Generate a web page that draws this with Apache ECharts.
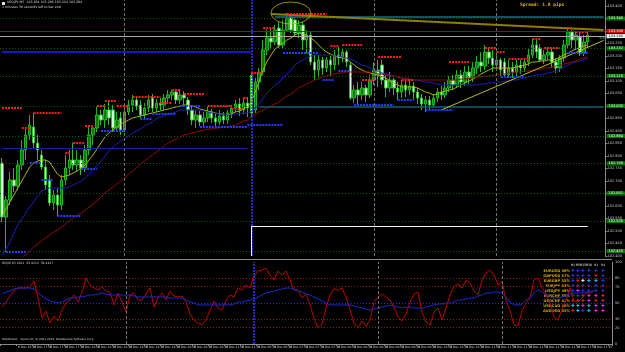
<!DOCTYPE html>
<html>
<head>
<meta charset="utf-8">
<script src="https://cdn.jsdelivr.net/npm/echarts@6/dist/echarts.min.js"></script>
<style>
html, body { margin: 0; padding: 0; background: #000; }
#chart { width: 625px; height: 352px; }
</style>
</head>
<body>
<div id="chart"></div>
<script>
// USDJPY M5, each candle is [open, close, low, high]
const candles = [
  [102.772,102.556,102.536,102.792],[102.556,102.624,102.416,102.640],[102.624,102.704,102.604,102.736],[102.704,102.680,102.656,102.752],[102.680,102.764,102.664,102.784],
  [102.764,102.824,102.744,102.864],[102.824,102.884,102.784,102.912],[102.884,102.924,102.864,102.964],[102.916,102.852,102.832,102.972],[102.852,102.824,102.784,102.884],
  [102.804,102.756,102.744,102.824],[102.756,102.684,102.664,102.784],[102.704,102.612,102.600,102.724],[102.612,102.644,102.584,102.664],[102.644,102.604,102.560,102.672],
  [102.604,102.704,102.584,102.724],[102.704,102.752,102.684,102.804],[102.752,102.784,102.724,102.824],[102.784,102.764,102.744,102.852],[102.764,102.784,102.736,102.824],
  [102.784,102.752,102.724,102.804],[102.752,102.824,102.736,102.844],[102.824,102.884,102.804,102.916],[102.884,102.912,102.844,102.920],[102.912,102.964,102.896,102.996],
  [102.964,102.944,102.924,102.984],[102.944,102.984,102.912,103.008],[102.984,102.952,102.924,103.024],[102.984,102.912,102.896,103.004],[102.912,102.944,102.896,102.976],
  [102.952,102.904,102.884,102.976],[102.904,102.976,102.896,103.004],[102.976,103.004,102.964,103.024],[103.004,103.024,102.976,103.044],[103.024,103.000,102.984,103.036],
  [103.004,102.964,102.952,103.024],[102.964,102.992,102.952,103.012],[102.992,103.024,102.976,103.044],[103.032,102.992,102.976,103.048],[102.992,103.012,102.976,103.028],
  [103.012,103.004,102.984,103.032],[103.004,103.032,102.984,103.048],[103.032,103.044,103.012,103.064],[103.044,103.056,103.024,103.064],[103.056,103.024,103.008,103.064],
  [103.024,103.044,103.008,103.064],[103.044,103.032,103.004,103.060],[103.024,102.984,102.964,103.036],[102.984,102.944,102.924,103.000],[102.944,102.964,102.912,102.984],
  [102.964,102.936,102.920,102.980],[102.936,102.952,102.916,102.976],[102.952,102.976,102.936,102.996],[102.976,102.952,102.932,102.988],[102.952,102.936,102.916,102.968],
  [102.936,102.960,102.924,102.984],[102.960,102.944,102.928,102.976],[102.944,102.972,102.928,102.984],[102.972,102.992,102.952,103.004],[102.992,103.008,102.976,103.024],
  [103.008,102.984,102.960,103.032],[102.984,103.012,102.968,103.032],[103.012,102.992,102.956,103.036],
  [103.124,102.972,102.956,103.136],[102.984,103.096,102.972,103.112],
  [103.096,103.136,103.064,103.152],[103.136,103.224,103.124,103.264],[103.224,103.272,103.204,103.304],[103.272,103.256,103.232,103.312],[103.256,103.304,103.244,103.324],
  [103.312,103.244,103.232,103.336],[103.244,103.304,103.232,103.344],[103.304,103.352,103.296,103.372],[103.356,103.304,103.292,103.368],[103.344,103.292,103.280,103.356],
  [103.292,103.324,103.272,103.344],[103.324,103.264,103.224,103.336],[103.264,103.284,103.212,103.304],[103.284,103.176,103.164,103.296],[103.176,103.144,103.104,103.204],
  [103.144,103.184,103.112,103.204],[103.184,103.152,103.124,103.196],[103.152,103.184,103.136,103.196],[103.184,103.164,103.116,103.200],[103.164,103.204,103.144,103.224],
  [103.204,103.192,103.164,103.236],[103.192,103.216,103.176,103.232],[103.216,103.176,103.156,103.224],[103.164,103.032,103.024,103.176],[103.032,103.064,103.012,103.084],
  [103.064,103.044,103.004,103.096],[103.044,103.072,103.024,103.096],[103.072,103.044,103.016,103.084],[103.044,103.104,103.032,103.124],[103.104,103.144,103.084,103.176],
  [103.144,103.124,103.076,103.184],[103.164,103.104,103.084,103.184],[103.104,103.072,103.036,103.124],[103.072,103.104,103.056,103.136],[103.104,103.072,103.044,103.112],
  [103.072,103.056,103.024,103.096],[103.056,103.084,103.032,103.104],[103.084,103.064,103.036,103.104],[103.064,103.080,103.044,103.104],[103.080,103.056,103.024,103.096],
  [103.056,103.032,103.008,103.072],[103.032,103.008,102.984,103.048],[103.008,103.024,102.976,103.040],[103.024,103.004,102.984,103.040],[103.004,103.032,102.992,103.048],
  [103.032,103.056,103.016,103.072],[103.056,103.044,103.024,103.080],[103.044,103.072,103.032,103.096],[103.072,103.104,103.056,103.120],[103.104,103.084,103.064,103.124],
  [103.084,103.124,103.072,103.144],[103.124,103.096,103.072,103.144],[103.096,103.136,103.080,103.160],[103.136,103.112,103.088,103.160],[103.112,103.152,103.096,103.176],
  [103.152,103.176,103.128,103.200],[103.176,103.160,103.136,103.216],[103.160,103.216,103.144,103.244],[103.216,103.192,103.168,103.236],[103.192,103.164,103.136,103.224],
  [103.164,103.184,103.144,103.216],[103.184,103.144,103.120,103.192],[103.176,103.124,103.112,103.192],[103.124,103.152,103.112,103.184],[103.152,103.136,103.112,103.176],
  [103.136,103.164,103.120,103.184],[103.164,103.152,103.128,103.184],[103.152,103.176,103.136,103.192],[103.176,103.204,103.160,103.232],[103.204,103.244,103.192,103.268],
  [103.244,103.216,103.192,103.264],[103.232,103.184,103.176,103.248],[103.184,103.204,103.168,103.224],[103.204,103.216,103.184,103.232],[103.216,103.176,103.152,103.232],
  [103.176,103.152,103.132,103.192],[103.152,103.192,103.136,103.204],[103.192,103.244,103.176,103.264],[103.244,103.296,103.232,103.312],[103.296,103.264,103.232,103.304],
  [103.264,103.284,103.224,103.296],[103.276,103.212,103.200,103.292],[103.212,103.256,103.200,103.284],[103.256,103.284,103.232,103.296]
]

const maFast = [
  102.560,102.588,102.616,102.644,102.672,102.700,102.728,102.756,102.772,102.780,
  102.784,102.784,102.776,102.752,102.728,102.716,102.720,102.724,102.732,102.740,
  102.752,102.764,102.784,102.804,102.828,102.852,102.876,102.892,102.904,102.916,
  102.928,102.936,102.944,102.952,102.956,102.960,102.964,102.968,102.972,102.976,
  102.980,102.984,102.988,102.992,102.996,103.000,103.004,103.004,103.000,102.996,
  102.988,102.984,102.980,102.976,102.972,102.968,102.968,102.964,102.968,102.976,
  102.980,102.988,102.996,103.016,103.056,103.100,103.144,103.180,103.204,103.228,
  103.240,103.252,103.264,103.272,103.284,103.292,103.288,103.284,103.272,103.260,
  103.244,103.228,103.216,103.208,103.200,103.196,103.192,103.192,103.176,103.164,
  103.152,103.144,103.136,103.132,103.128,103.124,103.116,103.112,103.100,103.092,
  103.084,103.076,103.076,103.076,103.076,103.072,103.064,103.056,103.052,103.044,
  103.048,103.056,103.060,103.064,103.068,103.076,103.084,103.092,103.100,103.108,
  103.116,103.128,103.136,103.144,103.152,103.152,103.152,103.152,103.152,103.152,
  103.156,103.160,103.164,103.168,103.176,103.176,103.180,103.180,103.184,103.184,
  103.188,103.196,103.204,103.212,103.220,103.228,103.232,103.240,103.244
]

const maMid = [
  102.404,102.428,102.456,102.492,102.524,102.548,102.572,102.596,102.616,102.640,
  102.660,102.668,102.672,102.672,102.672,102.672,102.672,102.676,102.684,102.692,
  102.700,102.712,102.728,102.744,102.760,102.780,102.800,102.820,102.836,102.848,
  102.860,102.868,102.880,102.892,102.900,102.908,102.920,102.928,102.936,102.948,
  102.956,102.960,102.968,102.972,102.976,102.984,102.984,102.984,102.984,102.984,
  102.984,102.980,102.976,102.972,102.972,102.968,102.968,102.964,102.964,102.968,
  102.968,102.972,102.972,102.980,102.992,103.008,103.032,103.052,103.068,103.084,
  103.096,103.112,103.128,103.144,103.164,103.176,103.184,103.192,103.200,103.204,
  103.204,103.204,103.204,103.204,103.200,103.200,103.196,103.192,103.188,103.180,
  103.172,103.164,103.160,103.152,103.144,103.140,103.132,103.128,103.124,103.120,
  103.116,103.112,103.108,103.108,103.104,103.104,103.100,103.096,103.096,103.092,
  103.088,103.084,103.084,103.084,103.084,103.084,103.084,103.084,103.084,103.084,
  103.084,103.088,103.088,103.092,103.092,103.096,103.096,103.100,103.100,103.104,
  103.104,103.108,103.112,103.116,103.120,103.124,103.124,103.128,103.132,103.136,
  103.140,103.148,103.156,103.164,103.172,103.176,103.180,103.184,103.192
]

const maSlow = [
  102.336,102.352,102.364,102.376,102.384,102.396,102.404,102.420,102.436,102.448,
  102.460,102.472,102.484,102.496,102.504,102.516,102.528,102.540,102.552,102.564,
  102.572,102.584,102.596,102.608,102.620,102.636,102.652,102.664,102.676,102.688,
  102.700,102.712,102.728,102.740,102.752,102.768,102.780,102.792,102.804,102.816,
  102.828,102.840,102.852,102.860,102.868,102.876,102.884,102.888,102.892,102.896,
  102.900,102.904,102.908,102.908,102.912,102.912,102.916,102.916,102.920,102.924,
  102.932,102.940,102.944,102.956,102.968,102.976,102.984,102.992,103.000,103.008,
  103.016,103.028,103.040,103.048,103.060,103.072,103.080,103.088,103.096,103.104,
  103.108,103.116,103.120,103.124,103.128,103.132,103.132,103.136,103.136,103.136,
  103.136,103.136,103.136,103.136,103.132,103.128,103.128,103.124,103.120,103.120,
  103.116,103.112,103.112,103.108,103.104,103.104,103.104,103.104,103.104,103.104,
  103.104,103.104,103.104,103.104,103.104,103.104,103.108,103.108,103.112,103.112,
  103.116,103.116,103.120,103.120,103.124,103.124,103.128,103.128,103.132,103.132,
  103.136,103.136,103.140,103.140,103.144,103.144,103.148,103.152,103.152,103.156,
  103.160,103.164,103.168,103.172,103.176,103.180,103.188,103.192,103.196
]

const rsi = [
  45.1,51.2,58.5,64.6,68.3,68.3,68.3,69.5,76.8,56.1,
  31.7,40.2,25.6,34.1,28.0,41.5,50.0,53.7,59.8,51.2,
  63.4,80.5,72.0,68.3,65.9,69.5,64.6,63.4,47.6,62.2,
  51.2,39.0,59.8,62.2,53.7,53.7,61.0,68.3,45.1,56.1,
  62.2,53.7,64.6,58.5,57.3,58.5,51.2,36.6,29.3,25.6,
  23.2,29.3,41.5,52.4,43.9,41.5,53.7,59.8,57.3,68.3,
  65.9,72.0,68.3,82.9,89.0,90.2,92.7,84.1,78.0,89.0,
  84.1,89.0,78.0,65.9,65.9,56.1,61.0,47.6,31.7,19.5,
  24.4,43.9,59.8,67.1,65.9,68.3,57.3,41.5,25.6,19.5,
  28.0,22.0,29.3,51.2,57.3,61.0,57.3,53.7,45.1,32.9,
  28.0,36.6,51.2,61.0,63.4,39.0,26.8,23.2,39.0,43.9,
  29.3,43.9,59.8,70.7,73.2,68.3,78.0,74.4,64.6,59.8,
  78.0,86.6,90.2,84.1,72.0,75.6,53.7,40.2,23.2,22.0,
  40.2,50.0,56.1,78.0,80.5,68.3,61.0,50.0,32.9,29.3,
  42.7,53.7,68.3,52.4,51.2,56.1,62.2,62.2,64.6
]

const rsiMa = [
  61.0,63.4,64.6,67.1,68.3,68.3,68.3,68.3,67.1,62.2,
  58.5,54.9,52.4,51.2,50.0,51.2,53.7,56.1,56.1,57.3,
  57.3,58.5,59.8,59.8,61.0,62.2,61.0,59.8,59.8,59.8,
  59.8,59.8,59.8,58.5,57.3,57.3,57.3,57.3,57.3,57.3,
  57.3,57.3,56.1,56.1,56.1,56.1,53.7,51.2,50.0,47.6,
  47.6,47.6,47.6,47.6,47.6,47.6,47.6,47.6,48.8,51.2,
  51.2,52.4,53.7,54.9,57.3,59.8,62.2,63.4,64.6,65.9,
  67.1,68.3,68.3,67.1,64.6,63.4,61.0,59.8,57.3,54.9,
  52.4,50.0,47.6,47.6,47.6,47.6,47.6,47.6,46.3,45.1,
  43.9,42.7,41.5,42.7,43.9,45.1,46.3,47.6,46.3,45.1,
  43.9,45.1,45.1,43.9,43.9,43.9,45.1,46.3,47.6,48.8,
  48.8,50.0,50.0,51.2,53.7,53.7,54.9,56.1,56.1,58.5,
  59.8,62.2,62.2,63.4,63.4,62.2,57.3,51.2,47.6,47.6,
  48.8,53.7,56.1,62.2,65.9,63.4,61.0,57.3,56.1,56.1,
  57.3,58.5,61.0,62.2,62.2,62.2,63.4,63.4,64.6
]

// sessions: day, first bar time, bar count
const sessions = [['6 Dec', '16:25', 63], ['9 Dec', '06:20', 86]]
const emptySlots = 4

// price levels
const gridLevels = [103.348, 103.232, 103.116, 103.000, 102.884, 102.768, 102.652, 102.536, 102.420]
const askPrice = 103.300
const bidPrice = 103.280
const leftLevels = [103.216, 102.832]
const rightLevels = [103.356, 102.996]
const oliveTrend = [[68, 103.368], [152, 103.304]]
const yellowTrend = [[111, 102.984], [152, 103.262]]
const boxLevel = 102.520
const ellipseCenter = [73, 103.372]
// [first bar, last bar, price]
const resistDashes = [[0,5,102.992],[5,7,102.912],[8,15,102.972],[16,17,102.812],[18,21,102.852],[21,23,102.920],[24,26,103.000],[26,29,103.020],[29,32,103.000],[33,40,103.036],[40,43,103.012],[43,45,103.064],[46,51,103.048],[52,58,103.000],[58,61,102.988],[61,62,103.032],[63,66,103.132],[66,69,103.312],[72,82,103.368],[83,85,103.240],[86,91,103.244],[91,94,103.104],[95,101,103.196],[101,104,103.104],[113,118,103.176],[122,125,103.232],[125,127,103.216],[128,133,103.188],[134,136,103.268],[137,141,103.232],[143,144,103.312],[145,148,103.296]]
const supportDashes = [[1,6,102.416],[7,10,102.772],[10,13,102.704],[14,20,102.560],[20,24,102.748],[25,31,102.900],[35,38,102.948],[38,44,102.968],[45,50,103.000],[50,62,102.916],[62,71,102.924],[71,80,103.212],[81,84,103.104],[85,88,103.140],[89,99,103.004],[100,104,103.024],[107,114,102.984],[126,132,103.116],[143,148,103.212]]
const gridSeparators = [31, 94, 125]
const daySeparator = 63

const rsiLevels = [80, 70, 30, 20]
const rsiAxisLabels = [100, 80, 70, 50, 30, 20, 0]

const pairs = ['EURUSD 58%', 'GBPUSD 57%', 'EURGBP 55%', 'EURJPY 53%', 'USDJPY 49%', 'EURCHF 58%', 'USDCHF 41%', 'USDCAD 46%', 'AUDUSD 55%']
const frames = ['M1', 'M5', 'M15', 'M30', 'H1', 'H4']
const signals = ['bbbbbb', 'bbbbrb', 'brwccb', 'bbbbbb', 'bmbbbb', 'bbrmmr', 'rrrmrr', 'ccmcmm', 'rcbcmm']

const times = []
sessions.forEach(([day, start, count]) => {
  const [h, m] = start.split(':').map(Number)
  for (let k = 0; k < count; k++) {
    const t = h * 60 + m + k * 5
    times.push(day + ' ' + String(Math.floor(t / 60)).padStart(2, '0') + ':' + String(t % 60).padStart(2, '0'))
  }
})
for (let k = 0; k < emptySlots; k++) times.push('')

const font = '"DejaVu Sans", sans-serif'
const signalColors = { b: '#1f3cff', r: '#ff2020', c: '#20d8ff', m: '#ff30ff', w: '#ffffff' }

const priceLabel = (p, bg, fg) => ({
  show: true, position: 'end', distance: 1, formatter: p.toFixed(3),
  fontSize: 3.5, fontFamily: font, color: fg, backgroundColor: bg, padding: [0, 2]
})

const dashes = (list, color) => list.map(([a, b, p]) => [
  { coord: [a, p], lineStyle: { color: color, width: 2, type: [2, 1] } },
  { coord: [b, p] }
])

const segment = (from, to, lineStyle) => [{ coord: from, lineStyle: lineStyle }, { coord: to }]

const mainMarks = [
  ...gridLevels.map(p => ({ yAxis: p, lineStyle: { color: '#0d5c0d', type: [1, 2], width: 1 }, label: priceLabel(p, '#0a720a', '#e8ffe8') })),
  ...gridSeparators.map(i => ({ xAxis: i, lineStyle: { color: '#707070', type: [3, 2], width: 1 } })),
  { xAxis: daySeparator, lineStyle: { color: '#3838ff', type: [2, 1], width: 1.5 } },
  segment([0, leftLevels[0]], [daySeparator, leftLevels[0]], { color: '#1414c8', width: 2, type: 'solid' }),
  segment([0, leftLevels[1]], [daySeparator - 1, leftLevels[1]], { color: '#1c1ca8', width: 1, type: 'solid' }),
  segment([69, rightLevels[0]], [152, rightLevels[0]], { color: '#1a6c84', width: 1.5, type: 'solid' }),
  segment([65, rightLevels[1]], [152, rightLevels[1]], { color: '#165a72', width: 1.5, type: 'solid' }),
  segment(oliveTrend[0], oliveTrend[1], { color: '#8a8000', width: 2, type: 'solid' }),
  segment(yellowTrend[0], yellowTrend[1], { color: '#c0bc00', width: 1, type: 'solid' }),
  segment([daySeparator, boxLevel], [148, boxLevel], { color: '#f0f0f0', width: 1, type: 'solid' }),
  segment([daySeparator, boxLevel], [daySeparator, 102.400], { color: '#f0f0f0', width: 1, type: 'solid' }),
  ...dashes(resistDashes, '#ff1c1c'),
  ...dashes(supportDashes, '#2040ff'),
  { yAxis: askPrice, lineStyle: { color: '#b40000', width: 1, type: 'solid' }, label: priceLabel(askPrice, '#e00000', '#ffffff') },
  { yAxis: bidPrice, lineStyle: { color: '#a8a8a8', width: 1, type: 'solid' }, label: priceLabel(bidPrice, '#f0f0f0', '#000000') }
]

const rsiMarks = [
  ...rsiLevels.map(v => ({ yAxis: v, lineStyle: { color: '#a01414', type: [1, 2], width: 1 } })),
  { yAxis: 50, lineStyle: { color: '#2a2ad2', type: [1, 2], width: 1 } },
  ...gridSeparators.map(i => ({ xAxis: i, lineStyle: { color: '#707070', type: [3, 2], width: 1 } })),
  { xAxis: daySeparator, lineStyle: { color: '#3838ff', type: [2, 1], width: 1.5 } }
]

const tableGraphics = []
const colX = [573, 578, 583, 589, 596, 603]
frames.forEach((f, c) => {
  tableGraphics.push({ type: 'text', x: colX[c], y: 265, style: { text: f, fill: '#e0e0e0', font: '3px ' + font, textAlign: 'center', textVerticalAlign: 'middle' } })
})
pairs.forEach((name, r) => {
  const y = 271 + r * 5
  tableGraphics.push({ type: 'text', x: 570, y: y, style: { text: name, fill: '#d4aa00', font: 'bold 3.6px ' + font, textAlign: 'right', textVerticalAlign: 'middle' } })
  signals[r].split('').forEach((s, c) => {
    tableGraphics.push({ type: 'text', x: colX[c], y: y, style: { text: '✚', fill: signalColors[s], font: '4.5px ' + font, textAlign: 'center', textVerticalAlign: 'middle' } })
  })
})

const chart = echarts.init(document.getElementById('chart'))
chart.setOption({
  animation: false,
  backgroundColor: '#000000',
  grid: [
    { left: 0, right: 13, top: 0, height: 256 },
    { left: 0, right: 13, top: 262, height: 82 }
  ],
  xAxis: [
    { type: 'category', gridIndex: 0, data: times, show: false },
    {
      type: 'category', gridIndex: 1, data: times,
      axisLine: { lineStyle: { color: '#8c8c8c' } },
      axisTick: { show: true, interval: 3, length: 2, lineStyle: { color: '#8c8c8c' } },
      axisLabel: {
        interval: 3, fontSize: 3, fontFamily: font, color: '#c8c8c8', align: 'left', margin: 2,
        formatter: (v, idx) => (idx === 0 ? '6 Dec 2013' : v)
      },
      splitLine: { show: false }
    }
  ],
  yAxis: [
    {
      type: 'value', gridIndex: 0, position: 'right', min: 102.40, max: 103.424, interval: 0.05,
      axisLine: { show: true, lineStyle: { color: '#8c8c8c' } },
      axisTick: { show: true, length: 2, lineStyle: { color: '#8c8c8c' } },
      axisLabel: { fontSize: 3.5, fontFamily: font, color: '#c8c8c8', margin: 2, showMaxLabel: false, formatter: v => v.toFixed(3) },
      splitLine: { show: false }
    },
    {
      type: 'value', gridIndex: 1, position: 'right', min: 0, max: 100, interval: 10,
      axisLine: { show: true, lineStyle: { color: '#8c8c8c' } },
      axisTick: { show: false },
      axisLabel: { fontSize: 3.5, fontFamily: font, color: '#c8c8c8', margin: 3, formatter: v => (rsiAxisLabels.includes(v) ? String(v) : '') },
      splitLine: { show: false }
    }
  ],
  series: [
    {
      name: 'USDJPY', type: 'candlestick', xAxisIndex: 0, yAxisIndex: 0, data: candles, barWidth: 3,
      itemStyle: { color: '#0e780e', color0: '#d4fcd4', borderColor: '#22b422', borderColor0: '#2cbc2c', borderWidth: 1 },
      markLine: { silent: true, symbol: 'none', animation: false, label: { show: false }, data: mainMarks }
    },
    { name: 'MA fast', type: 'line', xAxisIndex: 0, yAxisIndex: 0, data: maFast, showSymbol: false, lineStyle: { color: '#b4b000', width: 1 } },
    { name: 'MA mid', type: 'line', xAxisIndex: 0, yAxisIndex: 0, data: maMid, showSymbol: false, lineStyle: { color: '#1e1eb8', width: 1 } },
    { name: 'MA slow', type: 'line', xAxisIndex: 0, yAxisIndex: 0, data: maSlow, showSymbol: false, lineStyle: { color: '#8c0c0c', width: 1 } },
    {
      name: 'mark', type: 'custom', xAxisIndex: 0, yAxisIndex: 0, silent: true, z: 5, data: [ellipseCenter],
      renderItem: (params, api) => {
        const c = api.coord([api.value(0), api.value(1)])
        return {
          type: 'circle', x: c[0], y: c[1], scaleY: 0.55,
          shape: { cx: 0, cy: 0, r: 20 },
          style: { fill: 'none', stroke: '#c8b400', lineWidth: 1, strokeNoScale: true }
        }
      }
    },
    {
      name: 'RSI', type: 'line', xAxisIndex: 1, yAxisIndex: 1, data: rsi, showSymbol: false, lineStyle: { color: '#b80000', width: 1 },
      markLine: { silent: true, symbol: 'none', animation: false, label: { show: false }, data: rsiMarks }
    },
    { name: 'RSI MA', type: 'line', xAxisIndex: 1, yAxisIndex: 1, data: rsiMa, showSymbol: false, lineStyle: { color: '#1a2ad0', width: 1 } }
  ],
  graphic: [
    { type: 'rect', shape: { x: 2, y: 2, width: 3, height: 3 }, style: { fill: '#e0e0e0' } },
    { type: 'text', x: 7, y: 1, style: { text: 'USDJPY,M5  103.284 103.296 103.264 103.284', fill: '#d8d8d8', font: '3.2px ' + font } },
    { type: 'text', x: 2, y: 6, style: { text: '1 minutes 30 seconds left to bar end', fill: '#d8d8d8', font: '3.2px ' + font } },
    { type: 'text', x: 520, y: 2, style: { text: 'Spread: 1.8 pips', fill: '#d8b400', font: 'bold 4.6px "DejaVu Sans Mono", monospace' } },
    { type: 'text', x: 599, y: 36, style: { text: '<1.5', fill: '#20a8b8', font: 'bold 4px ' + font } },
    { type: 'line', shape: { x1: 0, y1: 259.5, x2: 612, y2: 259.5 }, style: { stroke: '#8c8c8c', lineWidth: 1 } },
    { type: 'text', x: 2, y: 262, style: { text: 'RSI(9) 61.4011  63.0212  59.4447', fill: '#d0d0d0', font: '3px ' + font } },
    { type: 'text', x: 2, y: 338, style: { text: 'MetaTrader - Alpari UK, © 2001-2013, MetaQuotes Software Corp.', fill: '#d0d0d0', font: '2.8px ' + font } },
    ...tableGraphics
  ]
})
</script>
</body>
</html>
